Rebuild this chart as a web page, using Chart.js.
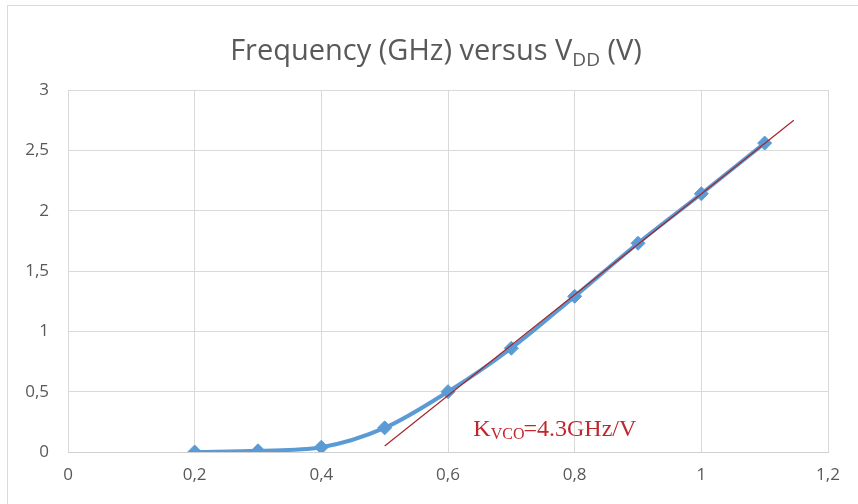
<!DOCTYPE html>
<html>
<head>
<meta charset="utf-8">
<script src="https://cdn.jsdelivr.net/npm/chart.js@4"></script>
<style>
  html, body { margin: 0; padding: 0; background: #fff; }
  #wrap { width: 858px; height: 504px; }
</style>
</head>
<body>
<div id="wrap"><canvas id="myChart" width="858" height="504"></canvas></div>
<script>
// supply voltage (V) and measured frequency (GHz)
var vdd = [0.2, 0.3, 0.4, 0.5, 0.6, 0.7, 0.8, 0.9, 1.0, 1.1];
var freq = [0, 0.01, 0.04, 0.2, 0.5, 0.86, 1.29, 1.73, 2.14, 2.56];

// linear fit line (red), end points
var fitX = [0.5, 1.146];
var fitY = [0.05, 2.75];

// axis ranges
var xMin = 0, xMax = 1.2, xStep = 0.2;
var yMin = 0, yMax = 3, yStep = 0.5;

// text
var titleMain = 'Frequency (GHz) versus V';
var titleSub = 'DD';
var titleEnd = ' (V)';
var noteMain = 'K';
var noteSub = 'VCO';
var noteEnd = '=4.3GHz/V';
var noteAt = {x: 0.64, y: 0.13};

var greyText = '#595959';
var labelFont = '"Open Sans", "Noto Sans", sans-serif';

var comma = function(v) {
    return Number(v.toFixed(2)).toString().replace('.', ',');
};

var seriesPts = vdd.map(function(v, i) { return {x: v, y: freq[i]}; });
var fitPts = fitX.map(function(v, i) { return {x: v, y: fitY[i]}; });

// draws frame, title with subscript and the Kvco note
var extras = {
    id: 'extras',
    beforeDraw: function(chart) {
        var c = chart.ctx;
        c.save();
        c.strokeStyle = '#d9d9d9';
        c.lineWidth = 1;
        c.strokeRect(7.5, 5.5, 860, 510);
        c.restore();
    },
    afterDraw: function(chart) {
        var c = chart.ctx;
        c.save();
        // title
        var big = '29px ' + labelFont, small = '19px ' + labelFont;
        c.font = big;
        var w1 = c.measureText(titleMain).width;
        var w3 = c.measureText(titleEnd).width;
        c.font = small;
        var w2 = c.measureText(titleSub).width;
        var x = 436 - (w1 + w2 + w3) / 2, base = 60;
        c.fillStyle = greyText;
        c.textBaseline = 'alphabetic';
        c.textAlign = 'left';
        c.font = big;
        c.fillText(titleMain, x, base);
        c.font = small;
        c.fillText(titleSub, x + w1, base + 6);
        c.font = big;
        c.fillText(titleEnd, x + w1 + w2, base);

        // Kvco note
        var sx = chart.scales.x, sy = chart.scales.y;
        var nx = sx.getPixelForValue(noteAt.x), ny = sy.getPixelForValue(noteAt.y);
        c.fillStyle = '#c0272d';
        c.font = '24px "Liberation Serif", "DejaVu Serif", serif';
        c.fillText(noteMain, nx, ny);
        var k = c.measureText(noteMain).width;
        c.font = '16px "Liberation Serif", "DejaVu Serif", serif';
        c.fillText(noteSub, nx + k, ny + 3);
        var s = c.measureText(noteSub).width;
        c.font = '24px "Liberation Serif", "DejaVu Serif", serif';
        c.fillText(noteEnd, nx + k + s - 1, ny);
        c.restore();
    }
};

var ctx = document.getElementById('myChart').getContext('2d');

var chart = new Chart(ctx, {
    type: 'line',
    data: {
        datasets: [{
            label: 'Frequency',
            data: seriesPts,
            borderColor: '#5b9bd5',
            backgroundColor: '#5b9bd5',
            borderWidth: 4,
            cubicInterpolationMode: 'monotone',
            pointStyle: 'rectRot',
            pointRadius: 7,
            pointBorderWidth: 1,
            order: 2
        }, {
            label: 'Fit',
            data: fitPts,
            borderColor: '#a3262b',
            borderWidth: 1.2,
            pointRadius: 0,
            tension: 0,
            order: 1
        }]
    },
    options: {
        responsive: false,
        animation: false,
        layout: {padding: {left: 0, right: 30, top: 90, bottom: 0}},
        plugins: {
            legend: {display: false},
            title: {display: false},
            tooltip: {enabled: false}
        },
        scales: {
            x: {
                type: 'linear',
                min: xMin, max: xMax,
                ticks: {
                    stepSize: xStep,
                    color: greyText,
                    font: {family: labelFont, size: 17},
                    padding: 13,
                    maxRotation: 0,
                    callback: comma
                },
                grid: {color: '#d9d9d9', drawTicks: false},
                border: {color: '#d0d0d0'},
                afterFit: function(scale) { scale.height = 52; }
            },
            y: {
                min: yMin, max: yMax,
                ticks: {
                    stepSize: yStep,
                    color: greyText,
                    font: {family: labelFont, size: 17},
                    padding: 19,
                    callback: comma
                },
                grid: {color: '#d9d9d9', drawTicks: false},
                border: {display: false},
                afterFit: function(scale) { scale.width = 68; }
            }
        }
    },
    plugins: [extras]
});
</script>
</body>
</html>
